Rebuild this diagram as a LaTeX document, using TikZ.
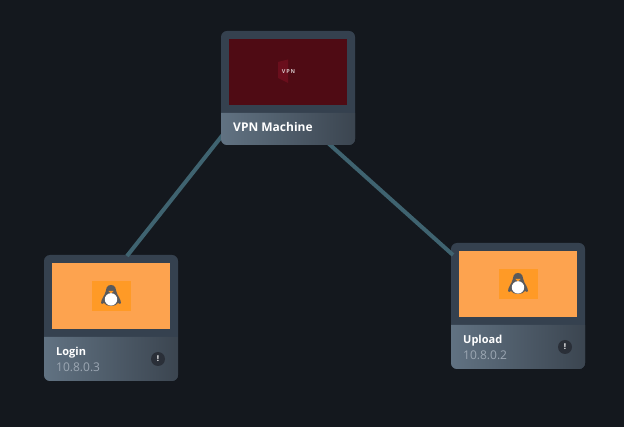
\documentclass[tikz,border=0pt]{standalone}
\usepackage{fontspec}
\setmainfont{Open Sans}
\usetikzlibrary{calc}
\definecolor{bgc}{HTML}{14181E}
\definecolor{cardc}{HTML}{35414F}
\definecolor{footl}{HTML}{617282}
\definecolor{footr}{HTML}{3B4550}
\definecolor{linkc}{HTML}{3F6370}
\definecolor{orangec}{HTML}{FDA34F}
\definecolor{iconc}{HTML}{FF9A26}
\definecolor{vpnc}{HTML}{4F0B14}
\definecolor{shieldc}{HTML}{6A0E1C}
\definecolor{subc}{HTML}{9CA7B3}
\definecolor{badgec}{HTML}{2A2F38}
\definecolor{pengc}{HTML}{5A5A5C}
\tikzset{
  card/.style={fill=cardc,rounded corners=6pt,minimum width=134pt,inner sep=0pt,outer sep=0pt,anchor=north west},
  screenbox/.style={inner sep=0pt,outer sep=0pt,minimum width=118pt,minimum height=66pt,anchor=north west},
  link/.style={draw=linkc,line width=4pt},
  title/.style={text=white,font=\fontsize{12}{14}\selectfont\bfseries,inner sep=0pt,anchor=base west},
  subtitle/.style={text=subc,font=\fontsize{12}{14}\selectfont,inner sep=0pt,anchor=base west},
  badge/.style={circle,fill=badgec,minimum size=14pt,inner sep=0pt,text=white,font=\fontsize{8}{8}\selectfont\bfseries},
  foot/.style={left color=footl,right color=footr,draw=none},
}
\newcommand{\footerbar}[3]{% x, top y, bottom y
  \path[foot] (#1,#2) -- (#1+134,#2) -- (#1+134,#3-6) arc[start angle=0,end angle=90,radius=6pt,y radius=-6pt]
    -- (#1+6,#3) arc[start angle=90,end angle=180,radius=6pt,y radius=-6pt] -- cycle;
}
\newcommand{\penguin}[2]{% centre x,y of icon square
  \begin{scope}[shift={(#1,#2)}]
    \fill[iconc] (-19.5,-15) rectangle (19.5,15);
    \begin{scope}[yshift=-1pt]
    \fill[pengc] (0,-12) .. controls (4.5,-12) and (5,-8) .. (5.5,-5)
      .. controls (6,-2) and (10,2) .. (10,6) .. controls (10,8) and (8,6.5) .. (7,6)
      .. controls (5,10) and (-5,10) .. (-7,6) .. controls (-8,6.5) and (-10,8) .. (-10,6)
      .. controls (-10,2) and (-6,-2) .. (-5.5,-5) .. controls (-5,-8) and (-4.5,-12) .. (0,-12) -- cycle;
    \fill[iconc] (-2.6,-6) -- (2.6,-6) -- (0,-3.4) -- cycle;
    \fill[white] (0,2.4) circle[radius=6.2pt];
    \end{scope}
  \end{scope}
}
\begin{document}
\begin{tikzpicture}[x=1pt,y=-1pt]
\useasboundingbox (0,0) rectangle (624,427);
\fill[bgc] (0,0) rectangle (624,427);
% cards
\node[card,minimum height=114pt] (vpn) at (221,31) {};
\node[card,minimum height=126pt] (login) at (44,255) {};
\node[card,minimum height=126pt] (upload) at (451,243) {};
% connectors
\draw[link] ($(vpn.south west)+(4,-13)$) -- ($(login.north west)+(83,1)$);
\draw[link] ($(vpn.south west)+(107,-2)$) -- ($(upload.north west)+(2,12)$);
% VPN card
\footerbar{221}{113}{145}
\node[screenbox,fill=vpnc] (vpnscreen) at (229,39) {};
\fill[shieldc] (278,62) -- (288,59.5) -- (288,83) -- (278,78) -- cycle;
\node[inner sep=0pt,text=white!75!vpnc,font=\fontsize{5.5}{6}\selectfont\bfseries] (vpnlogo) at (288.5,71.5) {V\,P\,N};
\node[title] (vpntitle) at (233,132) {VPN Machine};
% Login card
\footerbar{44}{337}{381}
\node[screenbox,fill=orangec] (loginscreen) at (52,263) {};
\penguin{111}{296}
\node[title,font=\fontsize{11}{14}\selectfont\bfseries] (logintitle) at (56,355.5) {Login};
\node[subtitle] (loginip) at (56,372) {10.8.0.3};
\node[badge] (loginbadge) at (158,359) {!};
% Upload card
\footerbar{451}{325}{369}
\node[screenbox,fill=orangec] (uploadscreen) at (459,251) {};
\penguin{518}{284}
\node[title,font=\fontsize{11}{14}\selectfont\bfseries] (uploadtitle) at (463,343.5) {Upload};
\node[subtitle] (uploadip) at (463,360) {10.8.0.2};
\node[badge] (uploadbadge) at (565,347) {!};
\end{tikzpicture}
\end{document}
